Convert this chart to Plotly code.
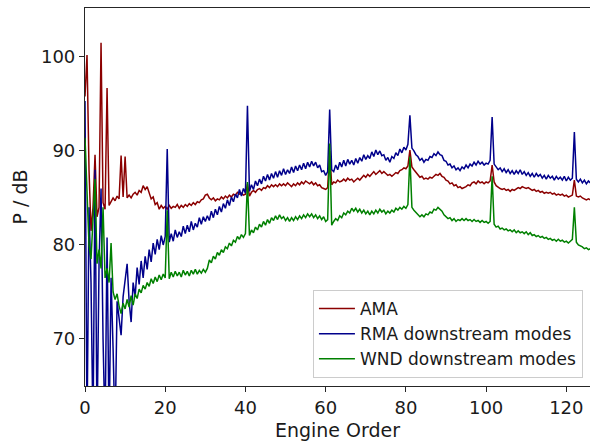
import numpy as np
import plotly.graph_objects as go

# Spectra sampled every half engine order, starting at EO 0
EO_STEP = 0.5

ama_db = [
    95.8, 100.2, 88.0, 81.5, 84.0, 89.6, 83.0, 84.0, 101.5, 84.5,
    83.8, 96.7, 84.2, 84.6, 85.0, 84.7, 85.2, 84.9, 89.5, 85.1,
    89.4, 85.0, 85.3, 85.0, 85.4, 85.6, 85.3, 85.8, 85.6, 86.3,
    85.9, 86.2, 85.4, 84.9, 85.1, 84.3, 84.5, 83.8, 84.2, 83.9,
    84.1, 83.8, 84.2, 83.9, 84.1, 84.0, 84.3, 83.9, 84.2, 84.0,
    84.3, 84.1, 84.4, 84.2, 84.5, 84.3, 84.6, 84.5, 84.8, 84.9,
    85.3, 85.4, 85.0, 84.8, 85.0, 84.7, 84.9, 84.8, 85.1, 84.9,
    85.2, 85.0, 85.3, 85.1, 85.4, 85.3, 85.6, 85.4, 85.5, 85.3,
    85.4, 86.5, 85.2, 85.6, 85.8, 85.6, 85.9, 86.0, 85.8, 86.1,
    86.0, 86.3, 86.1, 86.4, 86.2, 86.4, 86.2, 86.5, 86.3, 86.5,
    86.3, 86.6, 86.4, 86.2, 86.5, 86.3, 86.6, 86.4, 86.7, 86.5,
    86.8, 86.6, 86.5, 86.7, 86.4, 86.6, 86.3, 86.4, 86.1, 86.0,
    85.9, 86.1, 90.0, 86.4, 86.7, 86.6, 86.9, 86.7, 86.8, 87.0,
    86.8, 87.1, 86.9, 87.0, 86.7, 86.9, 87.1, 86.9, 87.2, 87.4,
    87.2, 87.5, 87.3, 87.6, 87.8, 87.5, 87.7, 87.9, 87.6, 87.8,
    87.6, 87.4, 87.5, 87.3, 87.5, 87.7, 87.6, 87.9, 88.0, 88.2,
    88.1, 88.4, 90.1, 88.3, 88.0, 87.7, 87.5, 87.2, 87.3, 87.0,
    87.1, 87.0, 87.2, 87.1, 87.3, 87.5, 87.4, 87.6, 87.3, 87.2,
    86.9, 86.8, 86.5, 86.6, 86.3, 86.4, 86.1, 86.2, 86.0, 86.1,
    86.2, 86.4, 86.3, 86.6, 86.7, 86.5, 86.8, 86.6, 86.7, 86.5,
    86.7, 86.6, 86.8, 88.5, 86.7, 86.3, 86.1, 86.0, 85.9, 86.0,
    85.8, 85.9, 85.7, 85.9, 85.8, 86.0, 86.1, 86.0, 86.2, 86.1,
    86.0, 86.1, 85.9, 85.8, 85.9, 85.7, 85.8, 85.6, 85.7, 85.5,
    85.6, 85.5, 85.6, 85.4, 85.5, 85.3, 85.4, 85.3, 85.4, 85.2,
    85.3, 85.1, 85.2, 85.3, 86.9, 85.2, 85.1, 85.2, 85.0, 84.9,
    84.8, 84.9, 84.8,
]

rma_db = [
    95.3, 60.0, 84.0, 76.0, 60.0, 88.0, 60.0, 78.0, 86.0, 70.0,
    60.0, 80.8, 60.0, 76.5, 69.0, 60.0, 74.0, 72.0, 70.4, 74.5,
    76.0, 78.0, 74.0, 71.8, 76.0, 74.5, 77.6, 75.8, 78.3, 76.5,
    78.8, 77.4, 79.5, 78.2, 80.2, 79.0, 80.6, 79.5, 81.0, 80.0,
    80.9, 90.2, 80.3, 81.2, 80.4, 81.6, 80.8, 81.4, 80.9, 82.0,
    81.2, 82.1, 81.4, 82.5, 81.6, 82.3, 81.9, 82.9, 82.2, 83.0,
    82.5, 83.1, 82.6, 83.6, 82.9, 83.8, 83.2, 84.1, 83.5, 84.4,
    83.9, 84.8, 84.2, 85.1, 84.6, 85.4, 85.0, 85.9, 85.2, 86.0,
    85.5, 94.8, 85.7, 86.4, 85.9, 86.8, 86.3, 87.0, 86.5, 87.3,
    86.8, 87.5, 86.9, 87.6, 87.1, 87.8, 87.2, 87.9, 87.4, 88.1,
    87.5, 88.0, 87.6, 88.3, 87.7, 88.4, 87.9, 88.5, 88.0, 88.7,
    88.1, 88.8, 88.3, 88.9, 88.4, 88.8, 88.2, 88.5, 87.8, 87.9,
    87.4, 87.8, 94.4, 88.0, 87.8, 88.5, 88.0, 88.8, 88.3, 89.0,
    88.4, 89.1, 88.6, 89.0, 88.5, 89.2, 88.7, 89.3, 88.9, 89.6,
    89.1, 89.5, 89.2, 89.9, 89.4, 90.1, 89.6, 90.0, 89.5, 89.6,
    89.0, 89.3, 88.8, 89.4, 89.2, 89.8, 89.5, 90.2, 89.8, 90.4,
    90.1, 90.7, 93.8, 90.3, 90.0, 89.6, 89.4, 89.0, 89.2, 88.8,
    89.1, 89.0, 89.4, 89.3, 89.7, 89.5, 89.9, 89.6, 89.5, 89.0,
    88.9, 88.5, 88.6, 88.2, 88.4, 88.0, 88.2, 87.9, 88.3, 88.1,
    88.5, 88.2, 88.6, 88.4, 88.8, 88.5, 88.9, 88.6, 88.8, 88.5,
    88.7, 88.6, 89.0, 93.6, 88.6, 88.3, 88.0, 88.2, 87.8, 88.1,
    87.7, 88.0, 87.6, 87.9, 87.5, 87.9, 87.6, 88.0, 87.5, 87.8,
    87.4, 87.7, 87.3, 87.6, 87.2, 87.6, 87.3, 87.5, 87.1, 87.4,
    87.0, 87.4, 87.1, 87.3, 86.9, 87.3, 87.0, 87.2, 86.9, 87.3,
    86.8, 87.2, 86.9, 87.1, 92.0, 87.0, 86.7, 87.0, 86.6, 86.9,
    86.5, 86.8, 86.6,
]

wnd_db = [
    91.4, 84.5, 80.0, 78.5, 82.5, 87.0, 78.0, 79.5, 77.5, 84.0,
    76.5, 77.5, 76.0, 80.2, 75.0, 74.2, 74.8, 73.5, 72.7, 73.8,
    73.2, 74.2, 73.4, 74.6, 73.6, 74.8, 74.3, 75.3, 74.9, 75.7,
    75.3, 76.0, 75.6, 76.4, 75.9, 76.6, 76.1, 76.8, 76.3, 76.9,
    76.5, 83.7, 76.4, 77.1, 76.6, 77.2, 76.7, 77.1, 76.6, 77.3,
    76.8, 77.2, 76.7, 77.3, 76.9, 77.4, 76.9, 77.3, 77.0, 77.4,
    77.1, 77.5, 78.4, 78.1, 78.8, 78.5, 79.2, 78.9, 79.5, 79.2,
    79.8, 79.6, 80.2, 79.9, 80.5, 80.3, 80.9, 80.6, 81.1, 80.8,
    81.2, 86.7, 81.0, 81.6, 81.3, 81.9, 81.6, 82.2, 81.9, 82.5,
    82.1, 82.7, 82.3, 82.9, 82.6, 83.1, 82.7, 83.2, 82.8, 83.0,
    82.6, 82.9, 82.5, 82.9, 82.6, 83.0, 82.7, 83.1, 82.8, 83.2,
    82.9, 83.3, 83.0, 83.3, 82.9, 83.2, 82.8, 83.1, 82.7, 83.0,
    82.5, 82.7, 90.8, 82.1, 82.5, 82.8, 82.6, 83.1, 82.9, 83.4,
    83.2, 83.6, 83.4, 83.9, 83.6, 83.9, 83.5, 83.8, 83.4, 83.7,
    83.3, 83.6, 83.2, 83.6, 83.3, 83.7, 83.4, 83.8, 83.5, 83.7,
    83.3, 83.6, 83.4, 83.7, 83.5, 83.9, 83.7, 84.0, 83.8, 84.1,
    83.9, 84.3, 89.4, 84.0, 83.7, 83.5, 83.3, 83.0, 83.2, 83.0,
    83.3, 83.2, 83.5, 83.4, 83.8, 83.7, 84.0, 83.8, 83.6, 83.2,
    83.0, 82.8, 82.9, 82.6, 82.8, 82.5, 82.7, 82.6, 82.8, 82.6,
    82.8, 82.6, 82.7, 82.5, 82.7, 82.5, 82.6, 82.4, 82.6, 82.4,
    82.5, 82.3, 82.5, 87.3, 82.2, 81.9, 82.0, 81.7, 81.8, 81.6,
    81.7, 81.5, 81.6, 81.4, 81.6, 81.3, 81.5, 81.3, 81.4, 81.2,
    81.4, 81.1, 81.3, 81.0, 81.1, 80.9, 81.0, 80.8, 80.9, 80.7,
    80.8, 80.6, 80.7, 80.5, 80.6, 80.4, 80.6, 80.4, 80.5, 80.3,
    80.4, 80.2, 80.4, 80.6, 84.0, 80.3, 80.0, 79.9, 79.8, 79.6,
    79.7, 79.5, 79.6,
]

x_ticks = [0, 20, 40, 60, 80, 100, 120]
y_ticks = [70, 80, 90, 100]

series = [
    ("AMA", ama_db, "#8b0000"),
    ("RMA downstream modes", rma_db, "#00008b"),
    ("WND downstream modes", wnd_db, "#008000"),
]

fig = go.Figure()
for name, values, color in series:
    eo = np.arange(len(values)) * EO_STEP
    fig.add_trace(go.Scatter(
        x=eo, y=values, mode="lines", name=name,
        line=dict(color=color, width=1.5),
    ))

axis_color = "#262626"
text_color = "#1a1a1a"
font = dict(family="DejaVu Sans", size=18, color=text_color)
title_font = dict(family="DejaVu Sans", size=19, color=text_color)

fig.update_layout(
    width=590, height=444,
    margin=dict(l=85, r=0, t=8, b=58),
    paper_bgcolor="white", plot_bgcolor="white",
    font=font,
    showlegend=True,
    legend=dict(
        x=0.986, y=0.021, xanchor="right", yanchor="bottom",
        bgcolor="rgba(255,255,255,0.85)", bordercolor="#cccccc", borderwidth=1,
        font=dict(family="DejaVu Sans", size=17, color=text_color),
        itemwidth=36,
    ),
)
fig.update_xaxes(
    range=[0, 125.9], tickvals=x_ticks, ticks="outside", ticklen=5,
    tickcolor=axis_color, showline=True, linecolor=axis_color, linewidth=1.2,
    mirror=True, showgrid=False, zeroline=False,
    title=dict(text="Engine Order", standoff=6, font=title_font),
)
fig.update_yaxes(
    range=[65, 105.2], tickvals=y_ticks, ticks="outside", ticklen=5,
    tickcolor=axis_color, showline=True, linecolor=axis_color, linewidth=1.2,
    mirror=False, showgrid=False, zeroline=False,
    title=dict(text="P / dB", standoff=8, font=title_font),
)

fig.write_html("out.html")
